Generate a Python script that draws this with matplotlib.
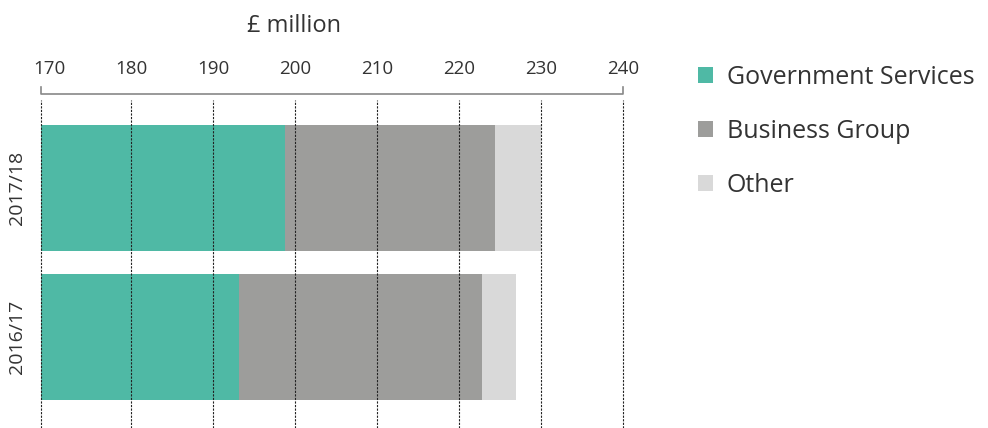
import matplotlib.pyplot as plt
from matplotlib.patches import Patch
import matplotlib.transforms as mtransforms

plt.rcParams['font.family'] = ['Open Sans', 'DejaVu Sans']

years = ["2016/17", "2017/18"]
segments = ["Government Services", "Business Group", "Other"]
# cumulative ends (£ million), axis starts at 169
gov = [193.2, 198.8]
business = [222.8, 224.4]
other = [227.0, 230.0]
x_start = 169
grid_x = [169, 180, 190, 200, 210, 220, 230, 240]
tick_vals = [170, 180, 190, 200, 210, 220, 230, 240]

colors = ["#4fb9a5", "#9d9d9b", "#d9d9d9"]
text_col = "#333333"

fig = plt.figure(figsize=(9.88, 4.28), dpi=100)
ax = fig.add_axes([41 / 988, 0.0, (623 - 41) / 988, 328 / 428])

ypos = [0, 1]
prev = [x_start, x_start]
for seg, end, c in zip(segments, [gov, business, other], colors):
    widths = [e - p for e, p in zip(end, prev)]
    ax.barh(ypos, widths, left=prev, height=0.846, color=c, label=seg, zorder=1)
    prev = end

for gx in grid_x:
    ax.axvline(gx, color="#222222", lw=0.8, ls=(0, (2, 1.2)), zorder=3, clip_on=False)

ax.set_xlim(169, 240)
ax.set_ylim(-0.611, 1.591)

# bracket above the plot
tr = mtransforms.blended_transform_factory(ax.transData, ax.transAxes)
ax.plot([169, 169, 240, 240], [1.040, 1.018, 1.018, 1.040], color="#888888",
        lw=1.2, transform=tr, clip_on=False)

ax.xaxis.tick_top()
ax.set_xticks(tick_vals)
ax.set_xticklabels([str(v) for v in tick_vals])
ax.tick_params(axis="x", length=0, pad=16, labelsize=13.5, labelcolor=text_col)
ax.set_yticks(ypos)
ax.set_yticklabels(years, rotation=90, va="center")
ax.tick_params(axis="y", length=0, pad=11, labelsize=14, labelcolor=text_col)
for s in ax.spines.values():
    s.set_visible(False)

fig.text(294 / 988, 1 - 26 / 428, "£ million", ha="center", va="center",
         fontsize=17, color=text_col)

handles = [Patch(facecolor=c, edgecolor="none") for c in colors]
fig.legend(handles, segments, loc="upper left", bbox_to_anchor=(688 / 988, 1 - 55 / 428),
           frameon=False, fontsize=18, labelcolor=text_col, handlelength=0.6,
           handleheight=0.6, handletextpad=0.55, labelspacing=1.15, borderaxespad=0)

fig.savefig("out.png", dpi=100)
